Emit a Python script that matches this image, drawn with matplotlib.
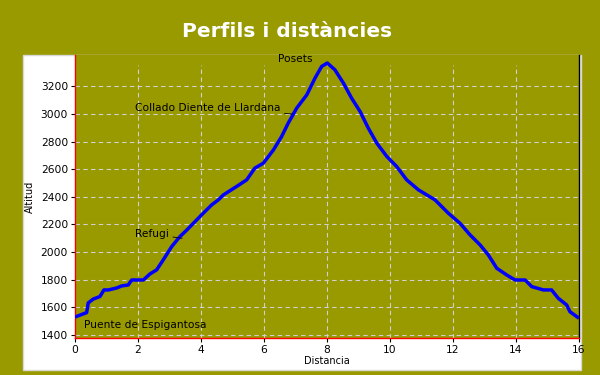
import matplotlib
matplotlib.use("Agg")
import matplotlib.pyplot as plt
from matplotlib.patches import Rectangle

# profile: distance (km) / altitude (m)
distancia = [0.0, 0.37, 0.42, 0.58, 0.79, 0.92, 1.06, 1.32, 1.48, 1.69, 1.80, 2.17,
             2.38, 2.59, 2.80, 3.07, 3.33, 3.55, 3.76, 4.02, 4.34, 4.55, 4.71, 5.13,
             5.45, 5.71, 5.98, 6.30, 6.56, 6.77, 7.04, 7.36, 7.62, 7.83, 8.01, 8.25,
             8.52, 8.78, 9.05, 9.31, 9.58, 9.90, 10.21, 10.53, 10.90, 11.43, 11.85,
             12.22, 12.54, 12.86, 13.12, 13.39, 13.70, 13.97, 14.29, 14.50, 14.87,
             15.13, 15.34, 15.61, 15.71, 16.0]
altitud = [1530, 1562, 1632, 1660, 1678, 1726, 1726, 1740, 1755, 1762, 1798, 1798,
           1842, 1871, 1943, 2040, 2112, 2160, 2209, 2270, 2342, 2378, 2414, 2475,
           2523, 2608, 2644, 2740, 2837, 2934, 3043, 3139, 3260, 3344, 3369, 3320,
           3224, 3115, 3018, 2898, 2789, 2692, 2620, 2523, 2451, 2378, 2282,
           2209, 2125, 2052, 1980, 1883, 1835, 1798, 1798, 1750, 1726,
           1726, 1666, 1617, 1569, 1521]

# waypoints: name, point on the track, where the text goes
punts = ["Posets", "Collado Diente de Llardana", "Refugi", "Puente de Espigantosa"]
punts_x = [8.0, 6.9, 3.4, 0.0]
punts_y = [3369, 3000, 2100, 1530]
text_x = [6.45, 1.9, 1.9, 0.3]
text_y = [3400, 3040, 2130, 1475]

x_ticks = list(range(0, 17, 2))
y_ticks = list(range(1400, 3201, 200))

olive = "#999900"
grid_col = "#d0d0d0"

fig = plt.figure(figsize=(6, 3.75), dpi=100, facecolor=olive)
# white panel behind the axes
fig.patches.append(Rectangle((23 / 600, 5 / 375), 558 / 600, 315 / 375,
                             transform=fig.transFigure, facecolor="white",
                             edgecolor="#d8d8d8", linewidth=1, zorder=-1))
fig.text(0.478, 0.917, "Perfils i distàncies", color="white", fontsize=14.5,
         fontweight="bold", ha="center", va="center", fontfamily="DejaVu Sans")

ax = fig.add_axes([75 / 600, 37 / 375, 504 / 600, 283 / 375])
ax.set_zorder(1)
ax.set_facecolor(olive)
ax.set_xlim(0, 16)
ax.set_ylim(1378, 3427)

# grid: horizontal full width, vertical stops a bit below the top
ax.grid(True, axis="y", color=grid_col, linestyle=(0, (4, 3)), linewidth=0.8)
ax.vlines(x_ticks, 1378, 3355, colors=grid_col, linestyles=(0, (4, 3)), linewidth=0.8, zorder=1)

ax.plot(distancia, altitud, color="#0000ff", linewidth=2.5, solid_capstyle="butt", zorder=3)

for nom, px, py, tx, ty in zip(punts, punts_x, punts_y, text_x, text_y):
    if nom == "Posets" or nom == "Puente de Espigantosa":
        ax.text(tx, ty, nom, fontsize=7.7, color="black", ha="left", va="center")
    else:
        ax.annotate(nom, xy=(px, py), xytext=(tx, ty), fontsize=7.7, color="black",
                    ha="left", va="center",
                    arrowprops=dict(arrowstyle="-", color="black", lw=0.6,
                                    shrinkA=1, shrinkB=0))

ax.set_xticks(x_ticks)
ax.set_yticks(y_ticks)
ax.tick_params(labelsize=7.7, length=3, width=0.8, colors="black", pad=2)
ax.set_axisbelow(True)

ax.spines["left"].set_color("red")
ax.spines["bottom"].set_color("red")
ax.spines["right"].set_color("black")
ax.spines["top"].set_visible(False)
for s in ax.spines.values():
    s.set_linewidth(1)

ax.set_xlabel("Distancia", fontsize=7, labelpad=1)
ax.set_ylabel("Altitud", fontsize=7, labelpad=4)

fig.savefig("out.png", dpi=100, facecolor=olive)
